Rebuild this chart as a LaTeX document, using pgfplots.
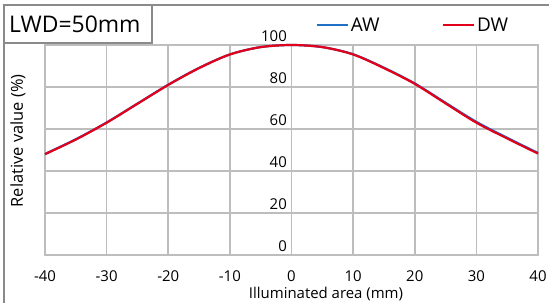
\documentclass[border=0pt]{standalone}
\usepackage{pgfplots}
\pgfplotsset{compat=1.18}
\usepackage{fontspec}
\setmainfont{Open Sans}
\definecolor{gridgray}{HTML}{BDBDBD}
\definecolor{framegray}{HTML}{8A8A8A}
\definecolor{awblue}{HTML}{1F6FC5}
\definecolor{dwred}{HTML}{E2001A}
\begin{document}
\begin{tikzpicture}
\begin{axis}[
  at={(0bp,0bp)}, anchor=south west,
  scale only axis, width=493bp, height=210bp,
  xmin=-40, xmax=40, ymin=0, ymax=100,
  xtick={-40,-30,...,40}, ytick={0,20,...,100},
  grid=major, major grid style={gridgray, line width=1.7bp},
  axis line style={gridgray, line width=1.7bp},
  tick style={draw=none},
  /pgf/number format/assume math mode=true,
  tick label style={font=\fontsize{15}{16}\selectfont, text=black},
  xticklabel style={inner sep=0pt, anchor=north, yshift=-15bp},
  yticklabel style={inner sep=0pt, anchor=south east, xshift=242bp, yshift=3bp},
  xlabel={Illuminated area (mm)},
  ylabel={Relative value (\%)},
  xlabel style={font=\fontsize{15}{16}\selectfont, at={(axis description cs:0.570,-0.152)}, anchor=north, inner sep=0pt},
  ylabel style={font=\fontsize{16.5}{17}\selectfont, at={(axis description cs:-0.0548,0.543)}, anchor=center, inner sep=0pt},
  legend style={draw=none, fill=none, at={(axis description cs:0.548,1.095)}, anchor=west,
    inner sep=0pt, font=\fontsize{19}{20}\selectfont,
    /tikz/every even column/.append style={column sep=60bp}},
  legend columns=2,
  legend image code/.code={\draw[#1, line width=2.5bp] (0bp,0bp) -- (31bp,0bp);},
  clip=false,
]
\addplot[awblue, line width=2.2bp, smooth] coordinates {
(-40,48.1) (-35,55.1) (-30,63.1) (-25,72.1) (-20,81.1) (-15,89.1) (-10,95.5) (-5,99.0) (0,100)
(5,99.0) (10,95.6) (15,89.2) (20,81.7) (25,72.5) (30,63.4) (35,55.8) (40,48.6)};
\addlegendentry{AW}
\addplot[dwred, line width=2.2bp, smooth] coordinates {
(-40,48.0) (-35,55.0) (-30,63.0) (-25,72.0) (-20,81.0) (-15,89.0) (-10,95.5) (-5,99.0) (0,100)
(5,99.0) (10,95.5) (15,89.0) (20,81.5) (25,72.2) (30,63.0) (35,55.5) (40,48.3)};
\addlegendentry{DW}
\end{axis}
\draw[framegray, line width=1.4bp] (504bp,250bp) -- (-41bp,250bp) -- (-41bp,-48bp);
\draw[framegray, line width=1.2bp] (-41bp,212bp) -- (107bp,212bp) -- (107bp,250bp);
\node[anchor=west, inner sep=0pt, font=\fontsize{23}{24}\selectfont] at (-36bp,231bp) {LWD=50mm};
\pgfresetboundingbox
\path (-45bp,-48bp) rectangle (504bp,255bp);
\end{tikzpicture}
\end{document}
